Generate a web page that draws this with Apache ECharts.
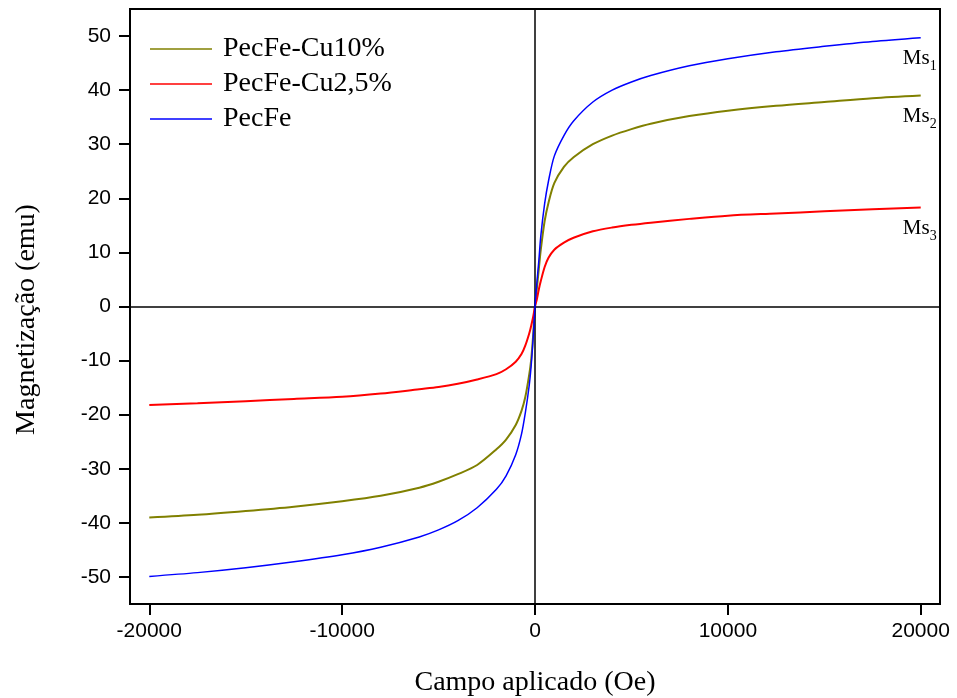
<!DOCTYPE html>
<html>
<head>
<meta charset="utf-8">
<script src="https://cdn.jsdelivr.net/npm/echarts@6/dist/echarts.min.js"></script>
<style>html,body{margin:0;padding:0;background:#fff}#c{width:957px;height:698px}</style>
</head>
<body>
<div id="c"></div>
<script>
const fieldOe = [-20000,-17500,-15000,-12500,-10000,-8000,-6000,-5000,-4000,-3000,-2000,-1500,-1000,-700,-500,-300,-200,-100,0,100,200,300,500,700,1000,1500,2000,3000,4000,5000,6000,8000,10000,12500,15000,17500,20000];
const magCu10 = [-39.0,-38.5,-37.8,-37.0,-36.0,-35.0,-33.5,-32.4,-31.0,-29.3,-26.4,-24.6,-21.9,-19.3,-16.7,-12.6,-9.9,-5.5,0,3.5,7.0,10.5,15.8,19.2,22.8,25.8,27.6,30.0,31.6,32.8,33.8,35.2,36.2,37.1,37.8,38.5,39.0];
const magCu25 = [-18.2,-17.9,-17.5,-17.1,-16.7,-16.1,-15.3,-14.9,-14.3,-13.5,-12.5,-11.6,-10.2,-8.8,-7.2,-5.0,-3.6,-2.0,0,1.4,3.2,4.7,7.3,9.0,10.5,11.8,12.7,13.9,14.6,15.1,15.5,16.2,16.8,17.2,17.6,18.0,18.3];
const magPecFe = [-49.9,-49.2,-48.3,-47.2,-45.9,-44.5,-42.6,-41.3,-39.6,-37.2,-33.8,-31.3,-27.4,-23.6,-19.6,-14.6,-11.0,-6.0,0,4.5,8.5,13.0,19.0,23.2,27.8,31.6,34.3,37.8,40.0,41.5,42.7,44.5,45.8,47.1,48.1,49.0,49.7];
const seriesNames = ['PecFe-Cu10%','PecFe-Cu2,5%','PecFe'];
const msLabels = ['2','3','1'];
const xTicks = [-20000,-10000,0,10000,20000];
const yTicks = [-50,-40,-30,-20,-10,0,10,20,30,40,50];

const pairs = arr => fieldOe.map((x,i)=>[x,arr[i]]);
const serif = '"Liberation Serif","Times New Roman",serif';
const sans = '"Liberation Sans",Arial,sans-serif';

function msMark(arr, idx){
  const last = arr[arr.length-1];
  return {
    symbol:'circle', symbolSize:1, silent:true, animation:false,
    itemStyle:{color:'rgba(0,0,0,0)'},
    data:[{coord:[fieldOe[fieldOe.length-1], last]}],
    label:{show:true, position:'inside', offset:[-1,21],
      formatter:'{m|Ms}{s|'+msLabels[idx]+'}',
      rich:{m:{fontFamily:serif,fontSize:21,color:'#000'},
            s:{fontFamily:serif,fontSize:14,color:'#000',padding:[15,0,0,0]}}}
  };
}

const colors = ['#808000','#ff0000','#0000ff'];
const widths = [2,2,1.5];
const datas = [magCu10, magCu25, magPecFe];

const chart = echarts.init(document.getElementById('c'), null, {renderer:'canvas'});
const series = datas.map((d,i)=>({
  name: seriesNames[i], type:'line', data: pairs(d), showSymbol:false, symbol:'none',
  smooth:0.3,
  lineStyle:{color:colors[i], width:widths[i]}, itemStyle:{color:colors[i]},
  markPoint: msMark(d,i), z: 3+i
}));
series[0].markLine = {
  symbol:'none', silent:true, animation:false,
  lineStyle:{color:'#000', width:1.5, type:'solid'}, label:{show:false},
  data:[{xAxis:0},{yAxis:0}]
};

chart.setOption({
  animation:false,
  backgroundColor:'#fff',
  grid:{left:130, right:17, top:9, bottom:94, show:true, borderColor:'#000', borderWidth:2, containLabel:false, outerBoundsMode:'none'},
  legend:{
    orient:'vertical', left:145, top:30, itemGap:7,
    icon:'rect', itemWidth:62, itemHeight:1.5,
    textStyle:{fontFamily:serif, fontSize:28, color:'#000', padding:[0,0,0,6]},
    data: seriesNames
  },
  xAxis:{
    type:'value', min:-21000, max:21000,
    name:'Campo aplicado (Oe)', nameLocation:'middle', nameGap:65,
    nameTextStyle:{fontFamily:serif, fontSize:28, color:'#000'},
    axisLine:{show:true, onZero:false, lineStyle:{color:'#000', width:2}},
    axisTick:{show:true, inside:false, length:11, lineStyle:{width:2,color:'#000'}, customValues:xTicks},
    axisLabel:{fontFamily:sans, fontSize:21, color:'#000', margin:17, customValues:xTicks, formatter: v => String(v)},
    splitLine:{show:false}
  },
  yAxis:{
    type:'value', min:-55, max:55,
    name:'Magnetização (emu)', nameLocation:'middle', nameGap:89, nameRotate:90,
    nameTextStyle:{fontFamily:serif, fontSize:28, color:'#000', padding:[0,26,0,0]},
    axisLine:{show:true, onZero:false, lineStyle:{color:'#000', width:2}},
    axisTick:{show:true, inside:false, length:11, lineStyle:{width:2,color:'#000'}, customValues:yTicks},
    axisLabel:{fontFamily:sans, fontSize:21, color:'#000', margin:19, customValues:yTicks, formatter: v => String(v)},
    splitLine:{show:false}
  },
  series: series
});
</script>
</body>
</html>
